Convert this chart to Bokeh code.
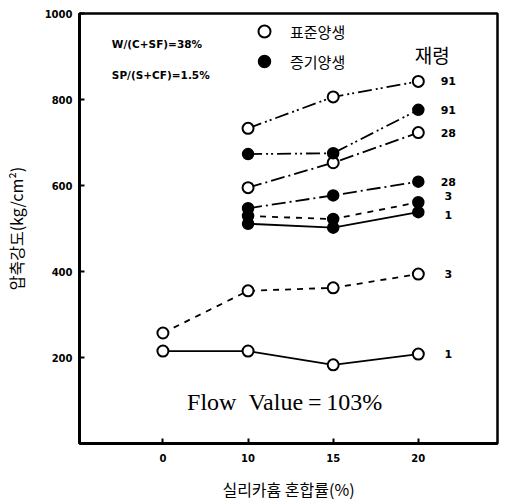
from bokeh.plotting import figure
from bokeh.models import (FixedTicker, Label, Legend, LegendItem, ColumnDataSource)
from bokeh.core.properties import value
from bokeh.embed import file_html
from bokeh.resources import INLINE

# Silica fume replacement ratio (%) and compressive strength (kg/cm^2) by curing age (days)
silica_pct = ["0", "10", "15", "20"]
ages = ["1", "3", "28", "91"]

# standard curing (표준양생): age 1 and 3 measured from 0 %, 28 and 91 from 10 %
std_1 = [215, 215, 183, 208]
std_3 = [257, 355, 362, 394]
std_28 = [595, 653, 723]
std_91 = [733, 806, 842]

# steam curing (증기양생), measured from 10 %
steam_1 = [511, 502, 538]
steam_3 = [529, 522, 561]
steam_28 = [547, 577, 609]
steam_91 = [673, 675, 776]

y_ticks = [200, 400, 600, 800, 1000]

KR = "Noto Sans CJK KR"
NUM = "DejaVu Sans"

p = figure(width=509, height=504, output_backend="svg", toolbar_location=None,
           x_range=(-0.98, 3.93), y_range=(0, 1000),
           min_border_left=75, min_border_right=12, min_border_top=13,
           min_border_bottom=61)
p.grid.visible = False
p.outline_line_color = "black"
p.outline_line_width = 2.5
p.background_fill_color = "white"
p.border_fill_color = "white"

full_idx = list(range(len(silica_pct)))
late_idx = full_idx[1:]

dash_28 = "14 4 2 4"
dash_91 = "14 4 2 3 2 4"

series = [
    # (x, y, dash, filled, age label, label y shift px)
    (full_idx, std_1, "solid", False, "1", 0),
    (full_idx, std_3, "dashed", False, "3", 0),
    (late_idx, std_28, dash_28, False, "28", 0),
    (late_idx, std_91, dash_91, False, "91", 0),
    (late_idx, steam_1, "solid", True, "1", 3),
    (late_idx, steam_3, "dashed", True, "3", -6),
    (late_idx, steam_28, dash_28, True, "28", 0),
    (late_idx, steam_91, dash_91, True, "91", 0),
]

open_r = None
fill_r = None
for xs, ys, dash, filled, age, shift in series:
    p.line(xs, ys, line_color="black", line_width=1.8, line_dash=dash)
    if filled:
        r = p.scatter(xs, ys, size=11, marker="circle", fill_color="black",
                      line_color="black", line_width=1.5)
        fill_r = fill_r or r
    else:
        r = p.scatter(xs, ys, size=11, marker="circle", fill_color="white",
                      line_color="black", line_width=2)
        open_r = open_r or r
    src = ColumnDataSource(dict(x=[xs[-1]], y=[ys[-1]], t=[age]))
    p.text("x", "y", "t", source=src, x_offset=30, y_offset=shift,
           text_align="center", text_baseline="middle",
           text_font=value(NUM), text_font_style="bold", text_font_size="11px",
           text_color="black")

legend = Legend(items=[LegendItem(label="표준양생", renderers=[open_r]),
                       LegendItem(label="증기양생", renderers=[fill_r])],
                location=(170, 367), orientation="vertical",
                border_line_alpha=0, background_fill_alpha=0,
                label_text_font=KR, label_text_font_size="15px",
                label_text_color="black",
                glyph_width=30, glyph_height=30, label_standoff=11,
                spacing=0, padding=0, margin=0)
p.add_layout(legend)

p.add_layout(Label(x=3.0, y=905, text="재령", text_font=KR, text_font_size="19px",
                   text_color="black", text_align="center", text_baseline="middle",
                   x_offset=14))
p.add_layout(Label(x=-0.6, y=928, text="W/(C+SF)=38%", text_font=NUM,
                   text_font_style="bold", text_font_size="10.5px",
                   text_color="black", text_baseline="middle"))
p.add_layout(Label(x=-0.6, y=856, text="SP/(S+CF)=1.5%", text_font=NUM,
                   text_font_style="bold", text_font_size="10.5px",
                   text_color="black", text_baseline="middle"))
p.add_layout(Label(x=1.43, y=97, text="Flow\u00a0\u00a0Value\u2009=\u2009103%",
                   text_font="Liberation Serif", text_font_size="24px",
                   text_color="black", text_align="center", text_baseline="middle"))

# axes
p.xaxis.ticker = FixedTicker(ticks=full_idx)
p.xaxis.major_label_overrides = {i: s for i, s in zip(full_idx, silica_pct)}
p.yaxis.ticker = FixedTicker(ticks=y_ticks)
for ax in (p.xaxis, p.yaxis):
    ax.axis_line_width = 3
    ax.axis_line_color = "black"
    ax.major_tick_in = 5
    ax.major_tick_out = 0
    ax.major_tick_line_width = 2
    ax.minor_tick_line_color = None
    ax.major_label_text_font = NUM
    ax.major_label_text_font_style = "bold"
    ax.major_label_text_font_size = "10px"
    ax.major_label_text_color = "black"
    ax.axis_label_text_font = KR
    ax.axis_label_text_font_style = "normal"
    ax.axis_label_text_font_size = "16px"
    ax.axis_label_text_color = "black"

p.xaxis.axis_label = "실리카흄 혼합률(%)"
p.xaxis.major_label_standoff = 10
p.xaxis.axis_label_standoff = 12
p.yaxis.axis_label = "압축강도(kg/cm²)"
p.yaxis.major_label_standoff = 7
p.yaxis.axis_label_standoff = 14

open("out.html", "w").write(file_html(p, INLINE))
